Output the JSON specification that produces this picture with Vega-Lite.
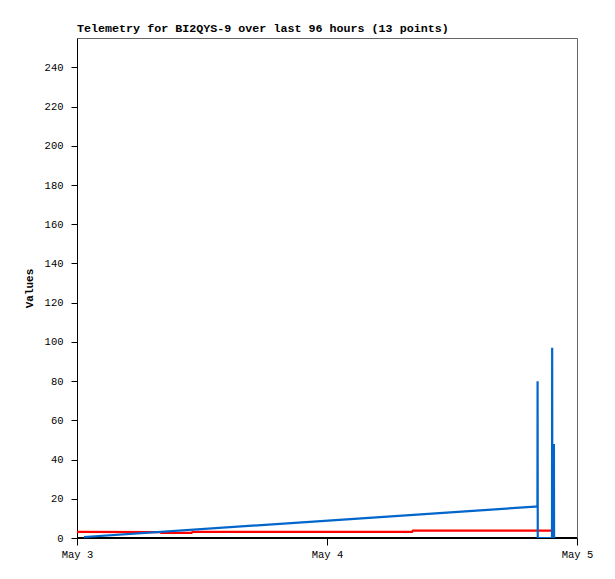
{
  "$schema": "https://vega.github.io/schema/vega-lite/v6.json",
  "width": 500,
  "height": 500,
  "autosize": "none",
  "padding": {"left": 77, "top": 38, "right": 38, "bottom": 41},
  "background": "white",
  "title": {
    "text": "Telemetry for BI2QYS-9 over last 96 hours (13 points)",
    "anchor": "start",
    "frame": "group",
    "font": "Liberation Mono",
    "fontSize": 11.7,
    "fontWeight": "bold",
    "color": "black",
    "offset": 3
  },
  "data": {
    "values": [
      {"time": "2025-05-03T00:00:00Z", "value": 0, "series": "base"},
      {"time": "2025-05-05T00:00:00Z", "value": 0, "series": "base"},
      {"time": "2025-05-03T00:00:00Z", "value": 3.1, "series": "red"},
      {"time": "2025-05-03T08:00:00Z", "value": 3.0, "series": "red"},
      {"time": "2025-05-03T08:05:00Z", "value": 2.6, "series": "red"},
      {"time": "2025-05-03T11:00:00Z", "value": 2.6, "series": "red"},
      {"time": "2025-05-03T11:05:00Z", "value": 3.1, "series": "red"},
      {"time": "2025-05-04T08:10:00Z", "value": 3.1, "series": "red"},
      {"time": "2025-05-04T08:15:00Z", "value": 3.8, "series": "red"},
      {"time": "2025-05-04T21:36:00Z", "value": 3.8, "series": "red"},
      {"time": "2025-05-03T00:40:00Z", "value": 0.5, "series": "blue"},
      {"time": "2025-05-04T20:00:00Z", "value": 16, "series": "blue"},
      {"time": "2025-05-04T20:12:00Z", "value": 16, "series": "blue"},
      {"time": "2025-05-04T20:13:00Z", "value": 80, "series": "blue"},
      {"time": "2025-05-04T20:14:00Z", "value": 0, "series": "blue"},
      {"time": "2025-05-04T21:36:00Z", "value": 0, "series": "blue"},
      {"time": "2025-05-04T21:37:00Z", "value": 97, "series": "blue"},
      {"time": "2025-05-04T21:38:00Z", "value": 0, "series": "blue"},
      {"time": "2025-05-04T21:47:00Z", "value": 48, "series": "blue"},
      {"time": "2025-05-04T21:48:00Z", "value": 0, "series": "blue"}
    ]
  },
  "mark": {"type": "line", "strokeWidth": 2.2, "clip": true},
  "encoding": {
    "x": {
      "field": "time",
      "type": "temporal",
      "scale": {"type": "utc", "domain": [{"year": 2025, "month": 5, "date": 3, "utc": true}, {"year": 2025, "month": 5, "date": 5, "utc": true}]},
      "axis": {
        "title": null,
        "format": "%b %-d",
        "tickCount": "day",
        "grid": false,
        "domainColor": "black",
        "tickColor": "black",
        "tickSize": 7,
        "labelPadding": 4,
        "labelFont": "Liberation Mono",
        "labelFontSize": 10.5,
        "labelColor": "black",
        "labelFlush": false
      }
    },
    "y": {
      "field": "value",
      "type": "quantitative",
      "scale": {"domain": [0, 255], "nice": false},
      "axis": {
        "title": "Values",
        "values": [0, 20, 40, 60, 80, 100, 120, 140, 160, 180, 200, 220, 240],
        "grid": false,
        "domainColor": "black",
        "tickColor": "black",
        "tickSize": 6,
        "labelPadding": 8,
        "labelFont": "Liberation Mono",
        "labelFontSize": 10.5,
        "labelColor": "black",
        "titleFont": "Liberation Mono",
        "titleFontSize": 11,
        "titleFontWeight": "bold",
        "titleColor": "black",
        "titlePadding": 10
      }
    },
    "color": {
      "field": "series",
      "type": "nominal",
      "scale": {"domain": ["base", "red", "blue"], "range": ["black", "#ff0000", "#0066cc"]},
      "legend": null
    }
  },
  "config": {
    "view": {"stroke": "#666666", "strokeWidth": 1}
  }
}
